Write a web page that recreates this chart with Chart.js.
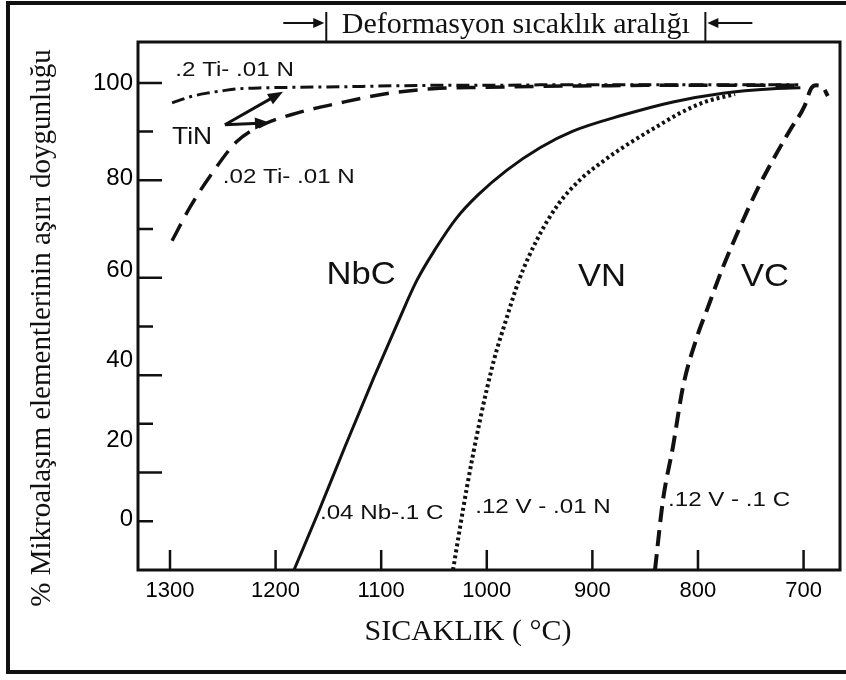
<!DOCTYPE html>
<html>
<head>
  <meta charset="UTF-8">
  <title>Mikroalaşım elementlerinin aşırı doygunluğu</title>
  <script src="https://cdn.jsdelivr.net/npm/chart.js"></script>
  <style>
    html, body { margin: 0; padding: 0; background: #fff; }
  </style>
</head>
<body>
  <canvas id="satChart" width="846" height="680"></canvas>

  <script>
    // temperature (°C) / supersaturation (%) pairs along each curve
    const tiHighTemp = [1298, 1280, 1265, 1250, 1235, 1210, 1180, 1140, 1090, 1050, 1000, 950, 900, 850, 800, 750, 705];
    const tiHighSat  = [95.9, 97.2, 97.9, 98.4, 98.8, 99.0, 99.1, 99.2, 99.4, 99.5, 99.5, 99.6, 99.6, 99.6, 99.6, 99.6, 99.6];

    const tiLowTemp = [1298, 1281, 1260, 1237, 1212, 1180, 1139, 1092, 1051, 1000, 950, 900, 850, 800, 750, 705];
    const tiLowSat  = [67.6, 74.5, 81.5, 87.9, 91.4, 93.8, 95.9, 97.9, 98.8, 99.1, 99.3, 99.4, 99.5, 99.5, 99.5, 99.5];

    const nbcTemp = [1182.6, 1159.8, 1134.3, 1106.8, 1084.1, 1066.1, 1048.1, 1029.2, 1008.3, 980.9, 949.6, 918.4, 871, 823.7, 776.3, 729, 703];
    const nbcSat  = [0, 11.7, 25.3, 39.6, 50.9, 59.5, 66.1, 72.1, 77.0, 82.1, 86.7, 90.1, 93.4, 96.1, 97.9, 98.8, 99.0];

    const vnTemp = [1032, 1018.8, 1006.4, 993.2, 981.8, 969.5, 952.5, 932.6, 911.7, 888.1, 864.4, 840.7, 817, 793.3, 764.9];
    const vnSat  = [0, 17.0, 30.8, 43.1, 51.3, 59.5, 67.8, 75.0, 80.1, 84.2, 87.7, 90.8, 93.8, 96.1, 97.7];

    const vcTemp = [840.7, 833.1, 823.7, 814.2, 801, 791.5, 776.3, 760.2, 744.1, 729, 712.9, 699, 693, 688, 682, 677];
    const vcSat  = [0, 14.4, 25.3, 37.6, 47.8, 53.4, 62.2, 70.4, 78.0, 84.2, 90.3, 95.3, 98.8, 99.5, 99.2, 97.3];

    // axes
    const xTickTemps = [1300, 1200, 1100, 1000, 900, 800, 700];
    const yTickMajor = [20, 40, 60, 80, 100];
    const yTickMinor = [10, 30, 50, 70, 90];
    // printed scale labels and the heights they are printed at
    const yLabelText = ['100', '80', '60', '40', '20', '0'];
    const yLabelAt   = [100, 80.5, 61.5, 43, 26.7, 10.3];

    // curve captions: text, temperature, percent
    const noteText = ['.2 Ti- .01 N', 'TiN', '.02 Ti- .01 N', 'NbC', 'VN', 'VC', '.04 Nb-.1 C', '.12 V - .01 N', '.12 V - .1 C'];
    const noteTemp = [1295, 1298, 1250, 1119, 891, 736.5, 1158, 1011, 828.4];
    const noteSat  = [102.7, 88.9, 80.7, 60.6, 60.2, 60.2, 11.7, 12.9, 14.4];

    // TiN pointer: common corner, then the two tips
    const tinArrowFrom = [1248, 91.4];
    const tinArrowTo = [[1193, 98.2], [1205.3, 91.8]];

    // deformation temperature window (°C)
    const deformRange = [1152, 793];

    const ink = '#111';
    const sans = "'Liberation Sans', Arial, sans-serif";
    const serif = "'Liberation Serif', 'Times New Roman', serif";

    const pts = (ts, vs) => ts.map((t, i) => ({ x: t, y: vs[i] }));

    function arrow(ctx, x1, y1, x2, y2, head, half) {
      const a = Math.atan2(y2 - y1, x2 - x1);
      const c = Math.cos(a), s = Math.sin(a);
      ctx.beginPath();
      ctx.moveTo(x1, y1);
      ctx.lineTo(x2 - c * head * 0.7, y2 - s * head * 0.7);
      ctx.stroke();
      ctx.beginPath();
      ctx.moveTo(x2, y2);
      ctx.lineTo(x2 - head * c + half * s, y2 - head * s - half * c);
      ctx.lineTo(x2 - head * c - half * s, y2 - head * s + half * c);
      ctx.closePath();
      ctx.fill();
    }

    // the printed captions are a little wider than the plain font
    function wideText(ctx, txt, px, py, stretch) {
      ctx.save();
      ctx.translate(px, py);
      ctx.scale(stretch, 1);
      ctx.fillText(txt, 0, 0);
      ctx.restore();
    }

    const decor = {
      id: 'decor',
      afterDraw(chart) {
        const { ctx, chartArea: a, scales: { x, y } } = chart;
        ctx.save();
        ctx.strokeStyle = ink;
        ctx.fillStyle = ink;

        // outer frame
        ctx.lineWidth = 4;
        ctx.strokeRect(8, 3, 846, 669);

        // plot frame
        ctx.lineWidth = 3;
        ctx.strokeRect(a.left, a.top, a.right - a.left, a.bottom - a.top);

        // tick marks point into the plot
        ctx.lineWidth = 2.5;
        ctx.beginPath();
        yTickMajor.forEach(v => {
          const py = y.getPixelForValue(v);
          ctx.moveTo(a.left, py); ctx.lineTo(a.left + 24, py);
        });
        yTickMinor.forEach(v => {
          const py = y.getPixelForValue(v);
          ctx.moveTo(a.left, py); ctx.lineTo(a.left + 15, py);
        });
        xTickTemps.forEach(t => {
          const px = x.getPixelForValue(t);
          ctx.moveTo(px, a.bottom); ctx.lineTo(px, a.bottom - 20);
        });
        ctx.stroke();

        // captions
        ctx.textBaseline = 'middle';
        noteText.forEach((txt, i) => {
          const big = txt === 'NbC' || txt === 'VN' || txt === 'VC';
          const px = x.getPixelForValue(noteTemp[i]);
          const py = y.getPixelForValue(noteSat[i]);
          if (big) {
            ctx.font = `32px ${sans}`;
            ctx.textAlign = 'center';
            wideText(ctx, txt, px, py, 1.08);
          } else {
            ctx.font = txt === 'TiN' ? `24px ${sans}` : `21px ${sans}`;
            ctx.textAlign = 'left';
            wideText(ctx, txt, px, py, txt === 'TiN' ? 1.1 : 1.15);
          }
        });

        // TiN pointer
        ctx.lineWidth = 3;
        const fx = x.getPixelForValue(tinArrowFrom[0]);
        const fy = y.getPixelForValue(tinArrowFrom[1]);
        tinArrowTo.forEach(([t, v]) => arrow(ctx, fx, fy, x.getPixelForValue(t), y.getPixelForValue(v), 15, 6));

        // deformation window above the plot
        const x1 = x.getPixelForValue(deformRange[0]);
        const x2 = x.getPixelForValue(deformRange[1]);
        ctx.lineWidth = 2;
        ctx.beginPath();
        ctx.moveTo(x1, 12); ctx.lineTo(x1, a.top);
        ctx.moveTo(x2, 12); ctx.lineTo(x2, a.top);
        ctx.stroke();
        arrow(ctx, x1 - 43, 23, x1 - 2, 23, 11, 5);
        arrow(ctx, x2 + 47, 23, x2 + 2, 23, 11, 5);
        ctx.font = `30px ${serif}`;
        ctx.textAlign = 'center';
        ctx.textBaseline = 'alphabetic';
        ctx.fillText('Deformasyon sıcaklık aralığı', (x1 + x2) / 2, 33);

        // axis titles
        ctx.font = `30px ${serif}`;
        ctx.textBaseline = 'middle';
        ctx.fillText('SICAKLIK ( °C)', a.left + 330, 632);
        ctx.save();
        ctx.translate(42, 328);
        ctx.rotate(-Math.PI / 2);
        ctx.font = `29px ${serif}`;
        ctx.fillText('% Mikroalaşım elementlerinin aşırı doygunluğu', 0, 0);
        ctx.restore();

        ctx.restore();
      }
    };

    const line = (label, ts, vs, width, dash) => ({
      label,
      data: pts(ts, vs),
      borderColor: ink,
      borderWidth: width,
      borderDash: dash,
      pointRadius: 0,
      cubicInterpolationMode: 'monotone',
      fill: false
    });

    new Chart(document.getElementById('satChart'), {
      type: 'line',
      data: {
        datasets: [
          line('.2 Ti- .01 N', tiHighTemp, tiHighSat, 3, [13, 5, 3, 5]),
          line('.02 Ti- .01 N', tiLowTemp, tiLowSat, 3.5, [19, 10]),
          line('.04 Nb-.1 C', nbcTemp, nbcSat, 3, []),
          line('.12 V - .01 N', vnTemp, vnSat, 4, [3, 3]),
          line('.12 V - .1 C', vcTemp, vcSat, 4, [16, 8])
        ]
      },
      options: {
        responsive: false,
        animation: false,
        devicePixelRatio: 1,
        layout: { padding: { top: 42, right: 6, left: 0, bottom: 0 } },
        plugins: { legend: { display: false }, tooltip: { enabled: false } },
        scales: {
          x: {
            type: 'linear',
            reverse: true,
            min: 665.5,
            max: 1330.3,
            afterBuildTicks: s => { s.ticks = xTickTemps.map(v => ({ value: v })); },
            afterFit: s => { s.height = 110; },
            grid: { display: false, drawTicks: false },
            border: { display: false },
            ticks: {
              autoSkip: false,
              maxRotation: 0,
              padding: 8,
              color: '#000',
              font: { family: sans, size: 22 },
              callback: v => String(v)
            }
          },
          y: {
            type: 'linear',
            min: 0,
            max: 108.4,
            afterBuildTicks: s => { s.ticks = yLabelAt.map(v => ({ value: v })); },
            afterFit: s => { s.width = 138; },
            grid: { display: false, drawTicks: false },
            border: { display: false },
            ticks: {
              padding: 5,
              color: '#000',
              font: { family: sans, size: 24 },
              callback: (v, i) => yLabelText[i]
            }
          }
        }
      },
      plugins: [decor]
    });
  </script>
</body>
</html>
